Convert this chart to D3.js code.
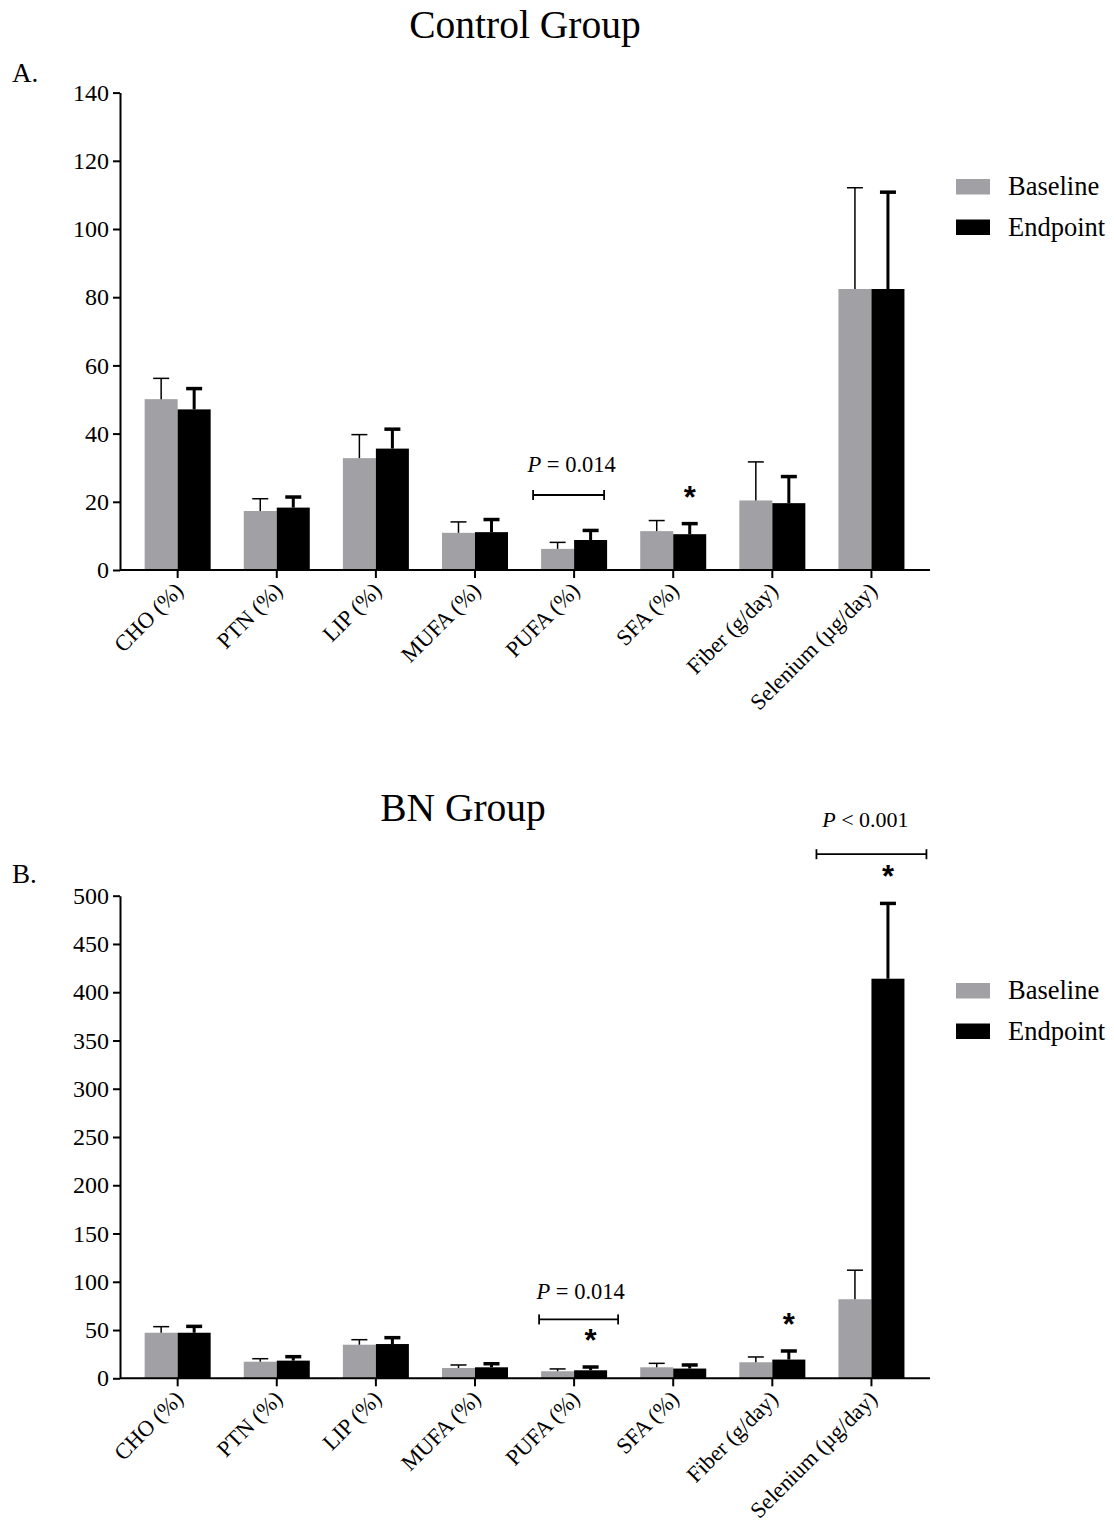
<!DOCTYPE html>
<html>
<head>
<meta charset="utf-8">
<script src="https://cdn.jsdelivr.net/npm/d3@7"></script>
<style>
  body { margin: 0; background: #fff; }
  svg { display: block; font-family: "Liberation Serif", "Times New Roman", serif; }
</style>
</head>
<body>
<div id="chart"></div>
<script>
var categories = ["CHO (%)", "PTN (%)", "LIP (%)", "MUFA (%)", "PUFA (%)", "SFA (%)", "Fiber (g/day)", "Selenium (\u00b5g/day)"];
var seriesNames = ["Baseline", "Endpoint"];

// Control group (mean, SD)
var controlBaseline   = [50.1, 17.3, 32.8, 10.9, 6.2, 11.4, 20.4, 82.4];
var controlBaselineSD = [6.1, 3.6, 6.9, 3.2, 1.9, 3.1, 11.3, 29.7];
var controlEndpoint   = [47.1, 18.3, 35.6, 11.1, 8.8, 10.5, 19.6, 82.4];
var controlEndpointSD = [6.1, 3.1, 5.7, 3.7, 2.8, 3.1, 7.8, 28.4];

// BN group (mean, SD)
var bnBaseline   = [47.2, 17.2, 34.8, 10.7, 7.3, 11.4, 16.6, 81.9];
var bnBaselineSD = [6.3, 3.1, 5.2, 3.1, 2.4, 4.1, 5.5, 30.1];
var bnEndpoint   = [47.2, 18.3, 35.5, 11.4, 8.3, 10.1, 19.4, 414];
var bnEndpointSD = [6.6, 4.1, 6.6, 3.7, 3.4, 3.7, 8.9, 78];

var ticksA = [0, 20, 40, 60, 80, 100, 120, 140];
var ticksB = [0, 50, 100, 150, 200, 250, 300, 350, 400, 450, 500];

var colors = { Baseline: "#a1a1a5", Endpoint: "#000000" };

var svg = d3.select("#chart").append("svg")
    .attr("width", 1114)
    .attr("height", 1526);

var x = d3.scaleBand()
    .domain(categories)
    .range([128.1, 921])
    .paddingInner(0.334)
    .paddingOuter(0.167);

var xSub = d3.scaleBand()
    .domain(seriesNames)
    .range([0, x.bandwidth()]);

function drawPanel(p) {
    var g = svg.append("g");
    var y = p.y;

    var rows = categories.map(function(c, i) {
        return [
            { cat: c, s: "Baseline", v: p.base[i], sd: p.baseSD[i] },
            { cat: c, s: "Endpoint", v: p.end[i], sd: p.endSD[i] }
        ];
    });
    var flat = [].concat.apply([], rows);

    // title + panel label
    g.append("text")
        .attr("x", p.titleX).attr("y", p.titleY)
        .attr("text-anchor", "middle")
        .style("font-size", "39.5px")
        .text(p.title);
    g.append("text")
        .attr("x", 12).attr("y", p.labelY)
        .style("font-size", "27px")
        .text(p.label);

    // bars
    g.selectAll("rect.bar")
        .data(flat)
        .enter().append("rect")
        .attr("class", "bar")
        .attr("x", function(d) { return x(d.cat) + xSub(d.s); })
        .attr("y", function(d) { return y(d.v); })
        .attr("width", xSub.bandwidth())
        .attr("height", function(d) { return y(0) - y(d.v); })
        .attr("fill", function(d) { return colors[d.s]; });

    // error bars (upper only)
    var eb = g.selectAll("g.err")
        .data(flat)
        .enter().append("g")
        .attr("class", "err");
    eb.append("line")
        .attr("x1", function(d) { return x(d.cat) + xSub(d.s) + xSub.bandwidth() / 2; })
        .attr("x2", function(d) { return x(d.cat) + xSub(d.s) + xSub.bandwidth() / 2; })
        .attr("y1", function(d) { return y(d.v); })
        .attr("y2", function(d) { return y(d.v + d.sd); })
        .attr("stroke", "#000")
        .attr("stroke-width", function(d) { return d.s == "Baseline" ? 1.5 : 3; });
    eb.append("line")
        .attr("x1", function(d) { return x(d.cat) + xSub(d.s) + xSub.bandwidth() / 2 - 8; })
        .attr("x2", function(d) { return x(d.cat) + xSub(d.s) + xSub.bandwidth() / 2 + 8; })
        .attr("y1", function(d) { return y(d.v + d.sd); })
        .attr("y2", function(d) { return y(d.v + d.sd); })
        .attr("stroke", "#000")
        .attr("stroke-width", function(d) { return d.s == "Baseline" ? 1.5 : 3.5; });

    // y axis
    var yAxis = g.append("g")
        .attr("transform", "translate(120,0)")
        .call(d3.axisLeft(y).tickValues(p.ticks).tickSize(7).tickSizeOuter(0).tickPadding(4));
    yAxis.select(".domain").attr("stroke-width", 2);
    yAxis.selectAll(".tick line").attr("stroke-width", 2);
    yAxis.selectAll(".tick text")
        .style("font-size", "24px")
        .style("font-family", "Liberation Serif")
        .attr("fill", "#000");

    // x axis
    var xAxis = g.append("g")
        .attr("transform", "translate(0," + y(0) + ")")
        .call(d3.axisBottom(x).tickSize(8).tickSizeOuter(0).tickFormat(""));
    xAxis.select(".domain").remove();
    xAxis.selectAll(".tick line").attr("stroke-width", 2);
    g.append("line")
        .attr("x1", 120).attr("x2", 930)
        .attr("y1", y(0)).attr("y2", y(0))
        .attr("stroke", "#000").attr("stroke-width", 2);

    g.selectAll("text.xlab")
        .data(categories)
        .enter().append("text")
        .attr("class", "xlab")
        .attr("text-anchor", "end")
        .attr("transform", function(d) {
            return "translate(" + (x(d) + x.bandwidth() / 2 + 7) + "," + (y(0) + 22) + ") rotate(-45)";
        })
        .style("font-size", "22.5px")
        .text(function(d) { return d; });

    // legend
    var lg = g.selectAll("g.leg")
        .data(seriesNames)
        .enter().append("g")
        .attr("class", "leg")
        .attr("transform", function(d, i) { return "translate(956," + (p.legendY + i * 40.5) + ")"; });
    lg.append("rect")
        .attr("x", 0).attr("y", -16)
        .attr("width", 34).attr("height", 15.5)
        .attr("fill", function(d) { return colors[d]; });
    lg.append("text")
        .attr("x", 52).attr("y", 0)
        .style("font-size", "26.5px")
        .text(function(d) { return d; });

    // asterisks above error bars
    p.stars.forEach(function(s) {
        var i = categories.indexOf(s.cat);
        var v = s.s == "Baseline" ? p.base[i] + p.baseSD[i] : p.end[i] + p.endSD[i];
        g.append("text")
            .attr("x", x(s.cat) + xSub(s.s) + xSub.bandwidth() / 2)
            .attr("y", y(v) - 16)
            .attr("text-anchor", "middle")
            .style("font-family", "Liberation Sans")
            .style("font-weight", "bold")
            .style("font-size", "31px")
            .text("*");
    });

    // P-value brackets
    p.brackets.forEach(function(b) {
        var cx = x(b.cat) + x.bandwidth() / 2;
        var by = y(b.at);
        var x1 = cx + b.dx1, x2 = cx + b.dx2;
        g.append("line").attr("x1", x1).attr("x2", x2).attr("y1", by).attr("y2", by)
            .attr("stroke", "#000").attr("stroke-width", 1.8);
        [x1, x2].forEach(function(xx) {
            g.append("line").attr("x1", xx).attr("x2", xx).attr("y1", by - 5).attr("y2", by + 5)
                .attr("stroke", "#000").attr("stroke-width", 1.8);
        });
        var t = g.append("text")
            .attr("x", (x1 + x2) / 2 + b.tdx)
            .attr("y", by - b.tdy)
            .attr("text-anchor", "middle")
            .style("font-size", b.fs + "px");
        t.append("tspan").style("font-style", "italic").text("P");
        t.append("tspan").text(" " + b.op + " " + b.p);
    });
}

drawPanel({
    title: "Control Group", titleX: 525, titleY: 38,
    label: "A.", labelY: 82,
    y: d3.scaleLinear().domain([0, 140]).range([570, 92.6]),
    ticks: ticksA,
    base: controlBaseline, baseSD: controlBaselineSD,
    end: controlEndpoint, endSD: controlEndpointSD,
    legendY: 195,
    stars: [{ cat: "SFA (%)", s: "Endpoint" }],
    brackets: [{ cat: "PUFA (%)", at: 22, dx1: -41, dx2: 30, op: "=", p: "0.014", tdx: 3, tdy: 23, fs: 22.5 }]
});

drawPanel({
    title: "BN Group", titleX: 463, titleY: 821,
    label: "B.", labelY: 883,
    y: d3.scaleLinear().domain([0, 500]).range([1378.3, 895.7]),
    ticks: ticksB,
    base: bnBaseline, baseSD: bnBaselineSD,
    end: bnEndpoint, endSD: bnEndpointSD,
    legendY: 999,
    stars: [
        { cat: "PUFA (%)", s: "Endpoint" },
        { cat: "Fiber (g/day)", s: "Endpoint" },
        { cat: "Selenium (\u00b5g/day)", s: "Endpoint" }
    ],
    brackets: [
        { cat: "PUFA (%)", at: 61, dx1: -35, dx2: 44, op: "=", p: "0.014", tdx: 2, tdy: 20, fs: 22.5 },
        { cat: "Selenium (\u00b5g/day)", at: 543, dx1: -55, dx2: 55, op: "<", p: "0.001", tdx: -6, tdy: 27, fs: 22 }
    ]
});
</script>
</body>
</html>
